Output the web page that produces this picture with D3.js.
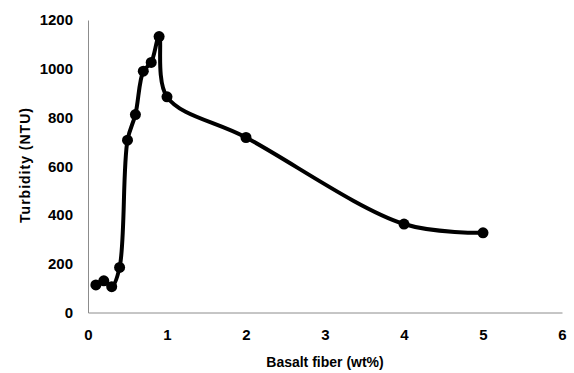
<!DOCTYPE html>
<html>
<head>
<meta charset="utf-8">
<script src="https://cdn.jsdelivr.net/npm/d3@7"></script>
<style>
  body { margin: 0; background: #fff; }
  text { font-family: "Liberation Sans", Arial, sans-serif; font-weight: bold; fill: #000; }
</style>
</head>
<body>
<div id="chart"></div>
<script>
// basalt fiber content (wt%) and turbidity (NTU)
const fiber = [0.1, 0.2, 0.3, 0.4, 0.5, 0.6, 0.7, 0.8, 0.9, 1.0, 2.0, 4.0, 5.0];
const turbidity = [113, 130, 106, 185, 707, 812, 990, 1026, 1132, 885, 718, 363, 327];
const xTicks = [0, 1, 2, 3, 4, 5, 6];
const yTicks = [0, 200, 400, 600, 800, 1000, 1200];

const width = 574, height = 373;
const margin = { top: 20, right: 12, bottom: 61, left: 88 };

const svg = d3.select("#chart").append("svg")
    .attr("width", width)
    .attr("height", height);

const x = d3.scaleLinear().domain([0, 6]).range([margin.left, width - margin.right]);
const y = d3.scaleLinear().domain([0, 1200]).range([height - margin.bottom + 0.5, margin.top]);

// axes: plain gray lines, no tick marks
const xAxis = svg.append("g")
    .attr("transform", `translate(0,${y(0)})`)
    .call(d3.axisBottom(x).tickValues(xTicks).tickFormat(d3.format("d")).tickSize(0).tickPadding(17));
xAxis.select(".domain").attr("stroke", "#8c8c8c");
xAxis.selectAll("text").style("font-size", "15px");

const yAxis = svg.append("g")
    .attr("transform", `translate(${x(0)},0)`)
    .call(d3.axisLeft(y).tickValues(yTicks).tickFormat(d3.format("d")).tickSize(0).tickPadding(15));
yAxis.select(".domain").attr("stroke", "#8c8c8c");
yAxis.selectAll("text").style("font-size", "15px");

svg.append("text")
    .attr("x", (x(0) + x(6)) / 2)
    .attr("y", 367)
    .attr("text-anchor", "middle")
    .style("font-size", "14px")
    .text("Basalt fiber (wt%)");

svg.append("text")
    .attr("transform", "translate(30,165) rotate(-90)")
    .attr("text-anchor", "middle")
    .style("font-size", "14px")
    .style("letter-spacing", "1px")
    .text("Turbidity (NTU)");

const pts = fiber.map((f, i) => ({ f, t: turbidity[i] }));

svg.append("path")
    .datum(pts)
    .attr("fill", "none")
    .attr("stroke", "#000")
    .attr("stroke-width", 4)
    .attr("stroke-linejoin", "round")
    .attr("d", d3.line()
        .x(d => x(d.f))
        .y(d => y(d.t))
        .curve(d3.curveCatmullRom.alpha(0.5)));

svg.selectAll("circle")
    .data(pts)
    .join("circle")
    .attr("cx", d => x(d.f))
    .attr("cy", d => y(d.t))
    .attr("r", 5.5)
    .attr("fill", "#000");
</script>
</body>
</html>
